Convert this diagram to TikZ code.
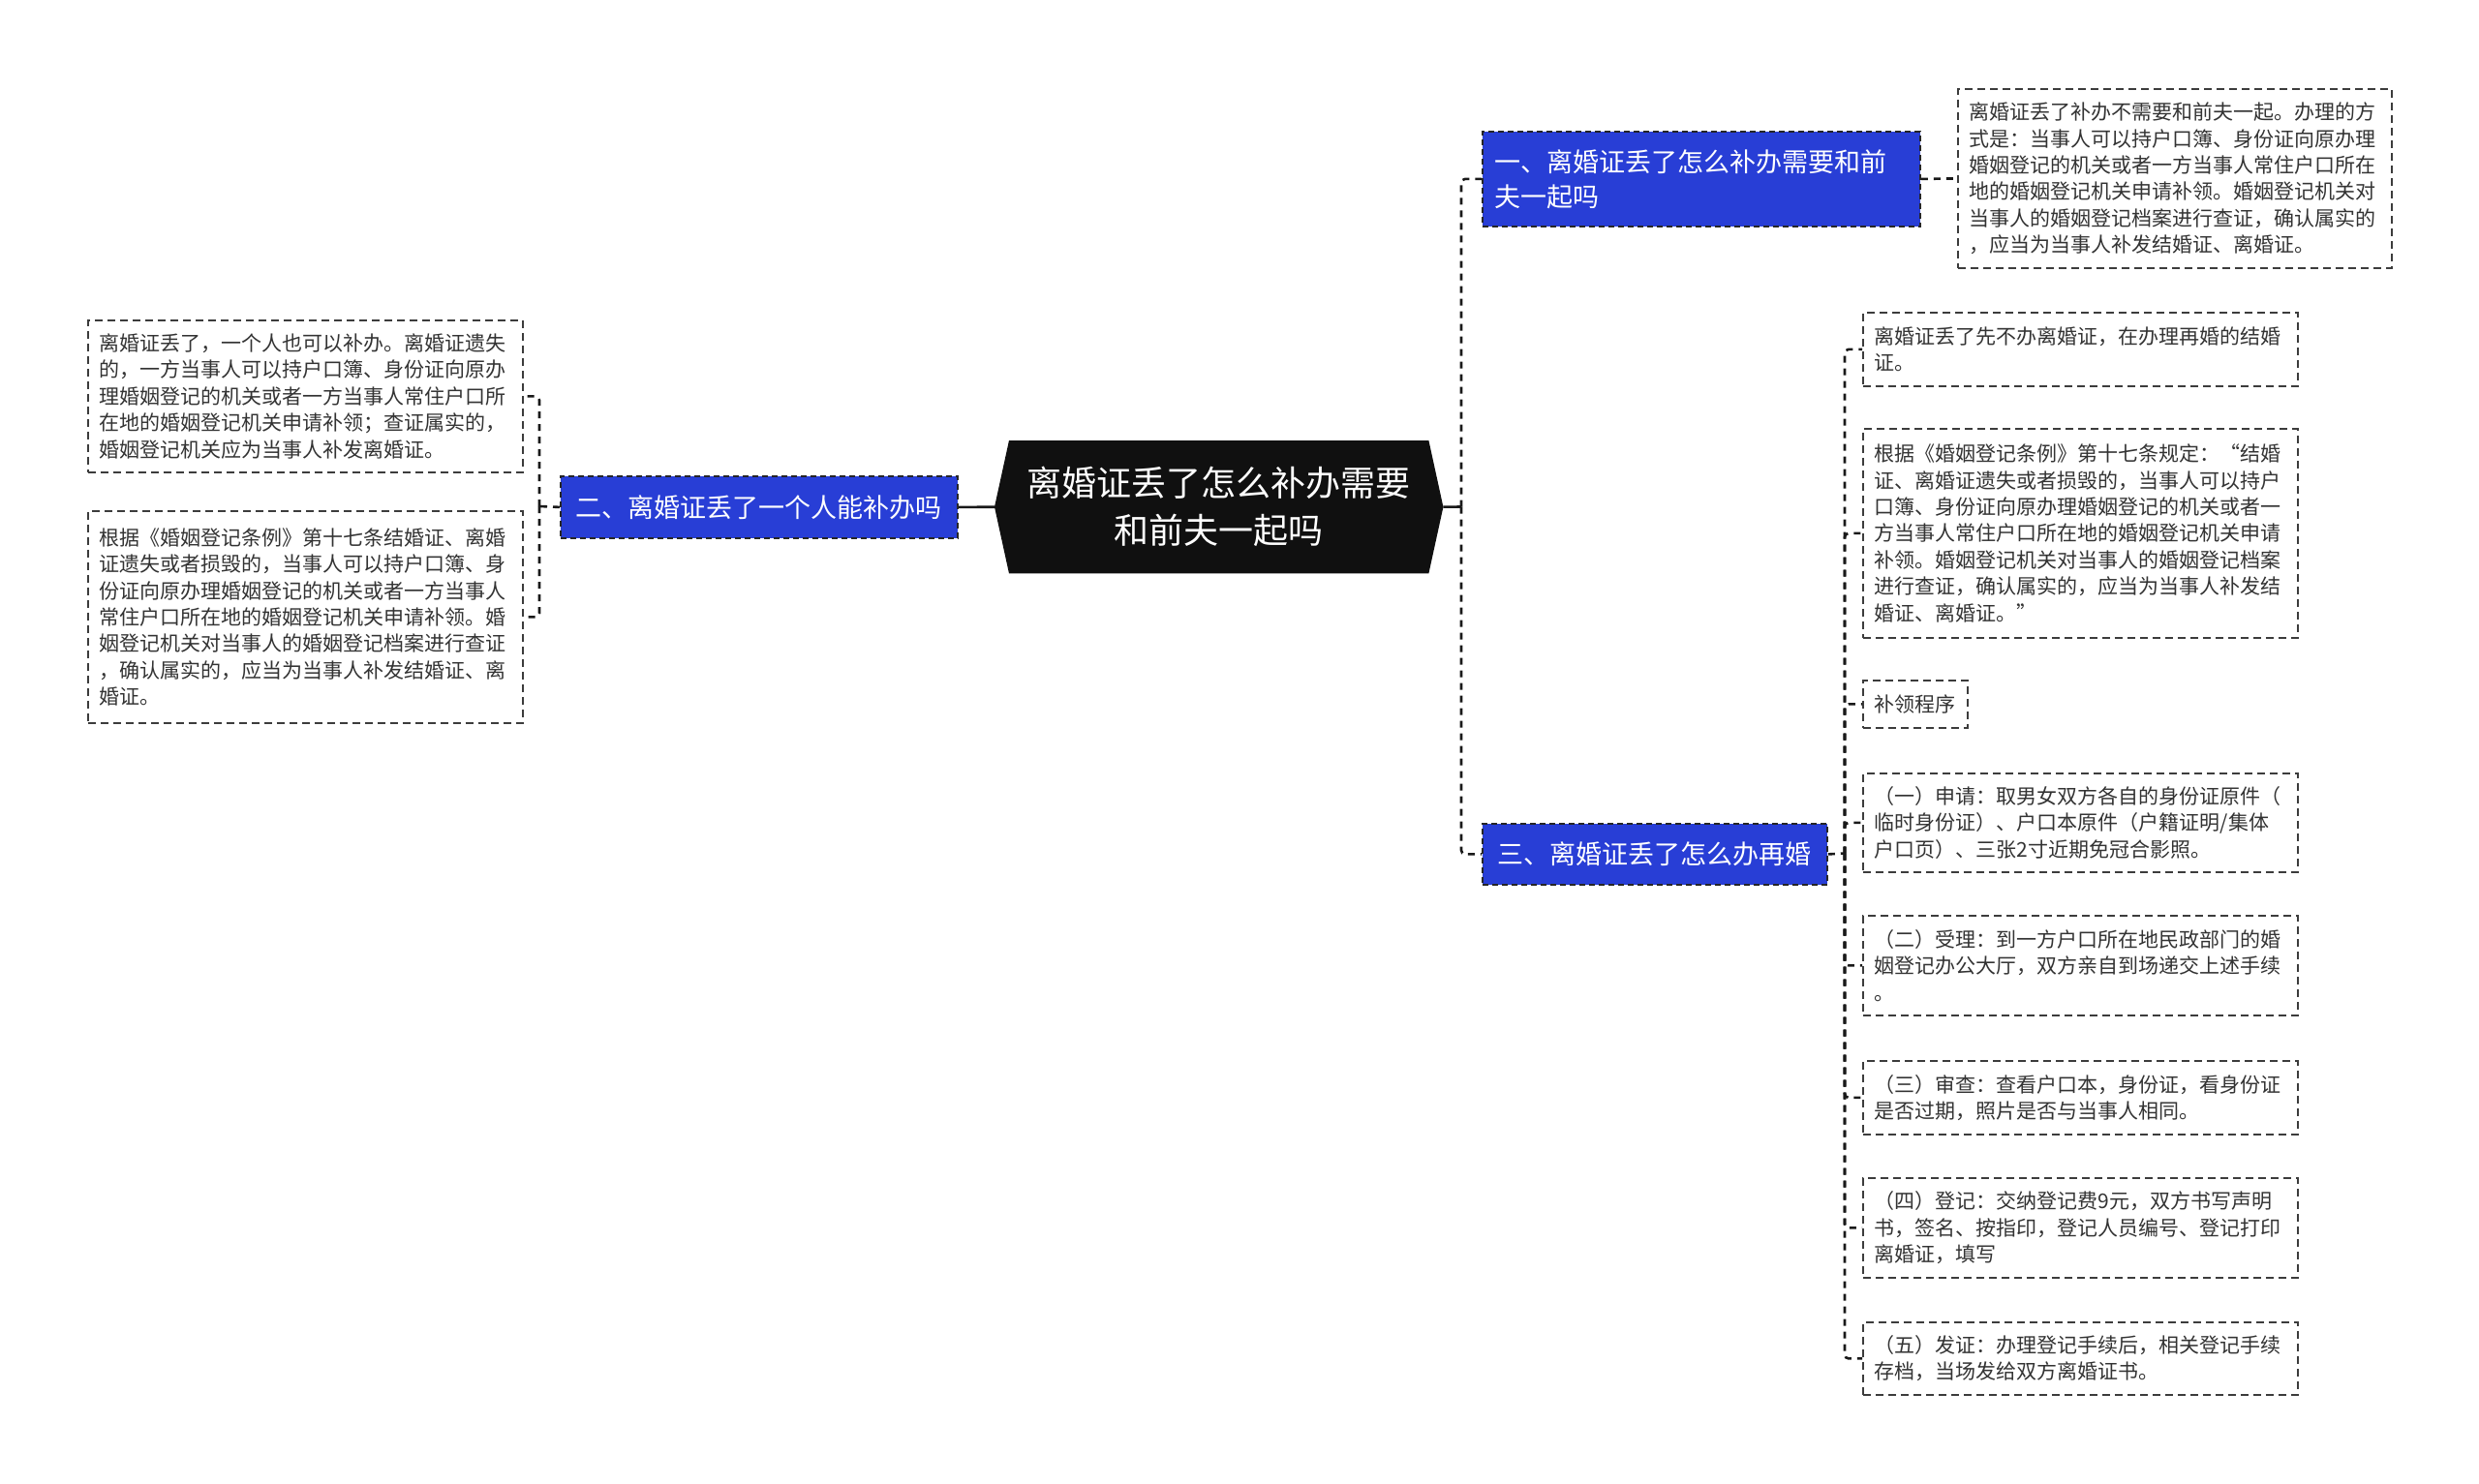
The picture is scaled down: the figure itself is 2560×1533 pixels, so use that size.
\documentclass[tikz,border=0pt]{standalone}
\usepackage{fontspec}
\setmainfont{Noto Sans CJK SC}
\usetikzlibrary{calc}
\definecolor{bblue}{RGB}{40,62,214}
\definecolor{cblack}{RGB}{16,16,16}
\definecolor{ltext}{RGB}{51,51,51}
\definecolor{lborder}{RGB}{60,60,60}
\tikzset{
  leaf/.style={draw=lborder, line width=1.8pt, dash pattern=on 8pt off 5pt, fill=white,
    text=ltext, inner xsep=12pt, inner ysep=0pt, align=left, anchor=north west,
    font=\fontsize{21}{27.4}\selectfont},
  branch/.style={draw=black!85, line width=1.8pt, dash pattern=on 6pt off 4pt, fill=bblue,
    text=white, inner xsep=13pt, inner ysep=0pt, anchor=north west,
    font=\fontsize{27}{36}\selectfont},
  conn/.style={draw=black!90, line width=2.6pt, dash pattern=on 7pt off 6pt, rounded corners=4pt},
  solidc/.style={draw=black!90, line width=2.6pt},
}
\begin{document}
\begin{tikzpicture}[x=1pt,y=-1pt]
\useasboundingbox (0,0) rectangle (2560,1533);
\fill[white] (0,0) rectangle (2560,1533);

% central
\node[minimum width=463, minimum height=137, inner sep=0pt, anchor=north west] (c) at (1027,455) {};
\fill[cblack] (c.west) -- ([xshift=15pt]c.north west) -- ([xshift=-15pt]c.north east) -- (c.east)
  -- ([xshift=-15pt]c.south east) -- ([xshift=15pt]c.south west) -- cycle;
\node[text=white, align=center, font=\fontsize{36}{49}\selectfont, inner sep=0pt] (ct) at (c.center)
  {离婚证丢了怎么补办需要\\和前夫一起吗};

% branches
\node[branch, minimum width=452, minimum height=98, text width=426, align=left] (b1) at (1530,135)
  {一、离婚证丢了怎么补办需要和前\\夫一起吗};
\node[branch, minimum width=410, minimum height=64, align=center] (b2) at (578,491)
  {二、离婚证丢了一个人能补办吗};
\node[branch, minimum width=356, minimum height=63, align=center] (b3) at (1530,850)
  {三、离婚证丢了怎么办再婚};

% leaves
\node[leaf, text width=424, minimum height=185] (l1) at (2021,91)
  {离婚证丢了补办不需要和前夫一起。办理的方\\式是：当事人可以持户口簿、身份证向原办理\\婚姻登记的机关或者一方当事人常住户口所在\\地的婚姻登记机关申请补领。婚姻登记机关对\\当事人的婚姻登记档案进行查证，确认属实的\\，应当为当事人补发结婚证、离婚证。};
\node[leaf, text width=425, minimum height=157] (l2a) at (90,330)
  {离婚证丢了，一个人也可以补办。离婚证遗失\\的，一方当事人可以持户口簿、身份证向原办\\理婚姻登记的机关或者一方当事人常住户口所\\在地的婚姻登记机关申请补领；查证属实的，\\婚姻登记机关应为当事人补发离婚证。};
\node[leaf, text width=425, minimum height=219] (l2b) at (90,527)
  {根据《婚姻登记条例》第十七条结婚证、离婚\\证遗失或者损毁的，当事人可以持户口簿、身\\份证向原办理婚姻登记的机关或者一方当事人\\常住户口所在地的婚姻登记机关申请补领。婚\\姻登记机关对当事人的婚姻登记档案进行查证\\，确认属实的，应当为当事人补发结婚证、离\\婚证。};

\node[leaf, text width=425, minimum height=76] (r1) at (1923,322)
  {离婚证丢了先不办离婚证，在办理再婚的结婚\\证。};
\node[leaf, text width=425, minimum height=216] (r2) at (1923,442)
  {根据《婚姻登记条例》第十七条规定：“结婚\\证、离婚证遗失或者损毁的，当事人可以持户\\口簿、身份证向原办理婚姻登记的机关或者一\\方当事人常住户口所在地的婚姻登记机关申请\\补领。婚姻登记机关对当事人的婚姻登记档案\\进行查证，确认属实的，应当为当事人补发结\\婚证、离婚证。”};
\node[leaf, minimum height=49] (r3) at (1923,702) {补领程序};
\node[leaf, text width=425, minimum height=102] (r4) at (1923,798)
  {（一）申请：取男女双方各自的身份证原件（\\临时身份证）、户口本原件（户籍证明/集体\\户口页）、三张2寸近期免冠合影照。};
\node[leaf, text width=425, minimum height=103] (r5) at (1923,945)
  {（二）受理：到一方户口所在地民政部门的婚\\姻登记办公大厅，双方亲自到场递交上述手续\\。};
\node[leaf, text width=425, minimum height=76] (r6) at (1923,1095)
  {（三）审查：查看户口本，身份证，看身份证\\是否过期，照片是否与当事人相同。};
\node[leaf, text width=425, minimum height=103] (r7) at (1923,1216)
  {（四）登记：交纳登记费9元，双方书写声明\\书，签名、按指印，登记人员编号、登记打印\\离婚证，填写};
\node[leaf, text width=425, minimum height=75] (r8) at (1923,1365)
  {（五）发证：办理登记手续后，相关登记手续\\存档，当场发给双方离婚证书。};

% connectors
\coordinate (jR) at (1509,523.5);
\draw[solidc] (c.east) -- (jR);
\draw[conn] (jR) |- (b1.west);
\draw[conn] (jR) |- (b3.west);

\draw[solidc] (c.west) -- (b2.east);
\coordinate (jL) at (557,523);
\draw[conn] (b2.west) -- (jL);
\draw[conn] (jL) |- (l2a.east);
\draw[conn] (jL) |- (l2b.east);

\draw[conn] (b1.east) -- (l1.west);

\coordinate (j3) at (1905,881.5);
\draw[conn] (b3.east) -- (j3);
\foreach \n in {r1,r2,r3,r4,r5,r6,r7,r8}
  \draw[conn] (j3) |- (\n.west);
\end{tikzpicture}
\end{document}
